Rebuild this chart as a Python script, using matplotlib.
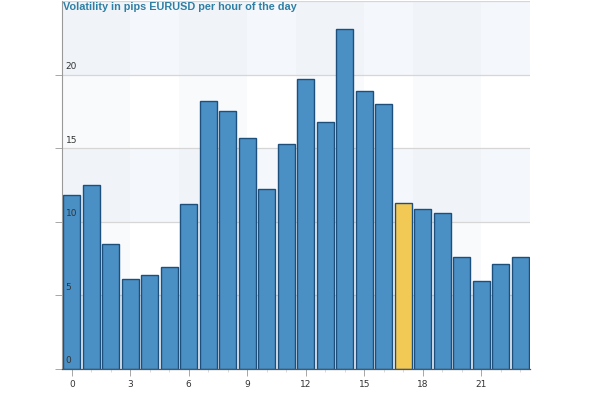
import numpy as np
import matplotlib.pyplot as plt
from matplotlib.transforms import blended_transform_factory

# Data
hours = list(range(24))
pips = [11.8, 12.5, 8.5, 6.1, 6.4, 6.9, 11.2, 18.2, 17.5, 15.7, 12.2, 15.3,
        19.7, 16.8, 23.1, 18.9, 18.0, 11.3, 10.9, 10.6, 7.6, 6.0, 7.1, 7.6]
highlight_hour = 17
y_ticks = [0, 5, 10, 15, 20]
x_ticks = [0, 3, 6, 9, 12, 15, 18, 21]
title = 'Volatility in pips EURUSD per hour of the day'

BLUE = '#4b90c5'
YELLOW = '#f3c955'
EDGE = '#1d4f7c'
SHADE = '#e8eff7'

fig = plt.figure(figsize=(5.91, 3.94), dpi=100)
ax = fig.add_axes([62/591, 25/394, 468/591, 368/394])

ax.set_xlim(-0.5, 23.5)
ax.set_ylim(0, 25)

# alternating background bands, very faint
for y0 in [0, 10, 20]:
    ax.axhspan(y0, y0 + 5, color=SHADE, alpha=0.45, lw=0, zorder=0)
for x0 in [0, 6, 12, 18]:
    ax.axvspan(max(x0 - 0.5, -0.5), x0 + 3, color=SHADE, alpha=0.3, lw=0, zorder=0)

for y in y_ticks[1:] + [25]:
    ax.axhline(y, color='#d6d6d6', lw=0.9, zorder=1)

colors = [YELLOW if h == highlight_hour else BLUE for h in hours]
ax.bar(hours, pips, width=0.85, color=colors, edgecolor=EDGE, linewidth=1.0, zorder=2)

# y labels sit inside the plot, just above their gridline
trans = blended_transform_factory(ax.transAxes, ax.transData)
for y in y_ticks:
    ax.text(0.008, y + 0.25, str(y), transform=trans, fontsize=6.5,
            color='#333333', ha='left', va='bottom', zorder=3)

ax.set_yticks(y_ticks)
ax.set_yticklabels([])
ax.tick_params(axis='y', length=5, width=0.6, color='#999999')

ax.set_xticks(x_ticks)
ax.set_xticklabels([str(x) for x in x_ticks], fontsize=6.5, color='#333333')
ax.set_xticks(hours, minor=True)
ax.tick_params(axis='x', which='major', length=5, width=0.6, color='#999999', pad=3)
ax.tick_params(axis='x', which='minor', length=2, width=0.5, color='#cccccc')

for side in ['top', 'right']:
    ax.spines[side].set_visible(False)
ax.spines['left'].set_color('#999999')
ax.spines['left'].set_linewidth(0.8)
ax.spines['bottom'].set_color('#555555')
ax.spines['bottom'].set_linewidth(0.9)

ax.text(0.002, 0.997, title, transform=ax.transAxes, fontsize=7.8, fontweight='bold',
        family='Liberation Sans', color='#2f7fa5', ha='left', va='top', zorder=4)

fig.savefig('out.png', dpi=100)
